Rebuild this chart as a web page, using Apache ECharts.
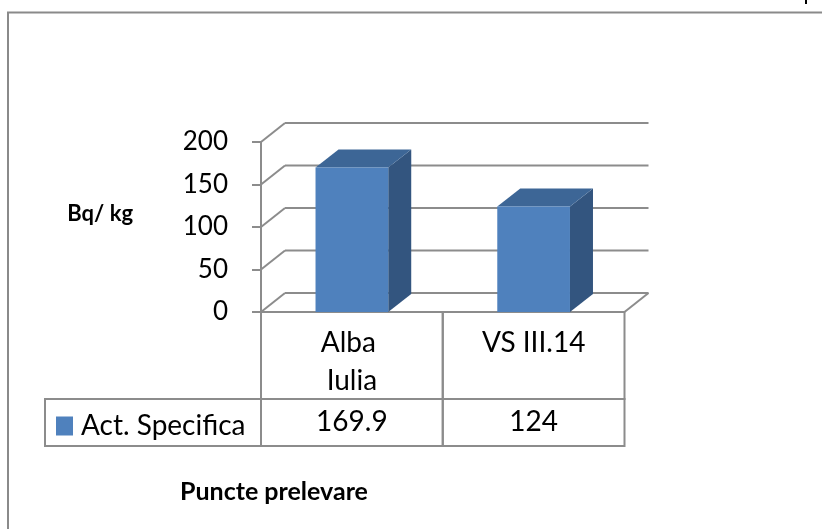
<!DOCTYPE html>
<html>
<head>
<meta charset="utf-8">
<script src="https://cdn.jsdelivr.net/npm/echarts@6/dist/echarts.min.js"></script>
<style>html,body{margin:0;padding:0;background:#fff}#c{width:822px;height:529px}</style>
</head>
<body>
<div id="c"></div>
<script>
const categories = ['Alba Iulia', 'VS III.14'];
const values = [169.9, 124];
const valueLabels = ['169.9', '124'];
const seriesName = 'Act. Specifica';
const yTicks = [0, 50, 100, 150, 200];
const yAxisTitle = 'Bq/ kg';
const xAxisTitle = 'Puncte prelevare';

const FONT = 'Lato';
const GRAY = '#8c8c8c';
const DX = 24, DY = -19;       // wall depth
const BDX = 23, BDY = -18;     // bar depth
const ROW1_BOTTOM = 399, ROW2_BOTTOM = 446, LEGEND_LEFT = 45;

const chart = echarts.init(document.getElementById('c'), null, {renderer: 'canvas'});

function wallItem(params, api) {
  const cs = params.coordSys;
  const v = api.value(1);
  const y = api.coord([0, v])[1];
  const L = cs.x, R = cs.x + cs.width;
  const st = {stroke: GRAY, lineWidth: 2, fill: null};
  const children = [
    {type: 'line', shape: {x1: L, y1: y, x2: L + DX, y2: y + DY}, style: st},
    {type: 'line', shape: {x1: L + DX, y1: y + DY, x2: R + DX, y2: y + DY}, style: st}
  ];
  if (v === 0) {
    children.push({type: 'line', shape: {x1: R, y1: y, x2: R + DX, y2: y + DY}, style: st});
    children.push({type: 'line', shape: {x1: L, y1: y, x2: R, y2: y}, style: st});
    children.push({type: 'rect', shape: {x: LEGEND_LEFT, y: ROW1_BOTTOM, width: L - LEGEND_LEFT, height: ROW2_BOTTOM - ROW1_BOTTOM}, style: st});
  }
  return {type: 'group', children: children};
}

function barItem(params, api) {
  const idx = api.value(0);
  const v = api.value(1);
  const base = api.coord([idx, 0]);
  const top = api.coord([idx, v]);
  const band = api.size([1, 0])[0];
  const w = band * 0.4;
  const x1 = base[0] - w / 2, x2 = base[0] + w / 2;
  const yt = top[1], yb = base[1];
  const st = {stroke: GRAY, lineWidth: 2, fill: null};
  return {type: 'group', children: [
    {type: 'rect', shape: {x: base[0] - band / 2, y: yb, width: band, height: ROW1_BOTTOM - yb}, style: st, z2: 1},
    {type: 'rect', shape: {x: base[0] - band / 2, y: ROW1_BOTTOM, width: band, height: ROW2_BOTTOM - ROW1_BOTTOM}, style: st, z2: 1},
    {type: 'polygon', shape: {points: [[x2, yt], [x2 + BDX, yt + BDY], [x2 + BDX, yb + BDY], [x2, yb]]}, style: {fill: '#33557F'}, z2: 5},
    {type: 'polygon', shape: {points: [[x1, yt], [x1 + BDX, yt + BDY], [x2 + BDX, yt + BDY], [x2, yt]]}, style: {fill: '#3D6696'}, z2: 5},
    {type: 'rect', shape: {x: x1, y: yt, width: w, height: yb - yt}, style: {fill: '#4F81BD'}, z2: 6}
  ]};
}

const option = {
  animation: false,
  color: ['#4F81BD'],
  textStyle: {fontFamily: FONT},
  grid: {left: 261, right: 197.5, top: 142, bottom: 217, containLabel: false},
  legend: {
    data: [{name: seriesName, icon: 'rect'}],
    left: 56, top: 412, padding: 0,
    itemWidth: 17, itemHeight: 19,
    textStyle: {fontFamily: FONT, fontSize: 28, color: '#000', padding: [0, 0, 0, 3]}
  },
  xAxis: [{
    type: 'category', data: categories, position: 'bottom',
    axisLine: {show: false}, axisTick: {show: false}, splitLine: {show: false},
    axisLabel: {fontFamily: FONT, fontSize: 28, color: '#000', margin: 12, lineHeight: 38,
      width: 112, overflow: 'break', interval: 0}
  }, {
    type: 'category', data: categories, position: 'bottom',
    axisLine: {show: false}, axisTick: {show: false}, splitLine: {show: false},
    axisLabel: {fontFamily: FONT, fontSize: 28, color: '#000', margin: 96, interval: 0,
      formatter: function (val, i) { return valueLabels[i]; }}
  }],
  yAxis: {
    type: 'value', min: yTicks[0], max: yTicks[yTicks.length - 1], interval: 50,
    name: yAxisTitle, nameLocation: 'middle', nameRotate: 0, nameGap: 128,
    nameTextStyle: {fontFamily: FONT, fontSize: 22, fontWeight: 'bold', color: '#000',
      verticalAlign: 'bottom', padding: [0, 0, 2, 0]},
    axisLine: {show: true, lineStyle: {color: GRAY, width: 2}},
    axisTick: {show: true, length: 9, lineStyle: {color: GRAY, width: 2}},
    splitLine: {show: false},
    axisLabel: {fontFamily: FONT, fontSize: 26, color: '#000', margin: 33}
  },
  series: [{
    type: 'custom', name: 'walls', renderItem: wallItem, z: 1, silent: true,
    encode: {x: 0, y: 1},
    data: yTicks.map(function (v) { return [0, v]; }),
    clip: false
  }, {
    type: 'custom', name: seriesName, renderItem: barItem, z: 2,
    encode: {x: 0, y: 1},
    data: values.map(function (v, i) { return [i, v]; }),
    clip: false
  }],
  graphic: [
    {type: 'polyline', shape: {points: [[8, 529], [8, 12.5], [822, 12.5]]}, style: {stroke: '#8a8a8a', lineWidth: 2, fill: null}},
    {type: 'rect', shape: {x: 805, y: 0, width: 2, height: 4}, style: {fill: '#000'}},
    {type: 'text', left: 180, top: 479, style: {text: xAxisTitle, font: 'bold 25px ' + FONT, fill: '#000'}}
  ]
};
chart.setOption(option);
</script>
</body>
</html>
